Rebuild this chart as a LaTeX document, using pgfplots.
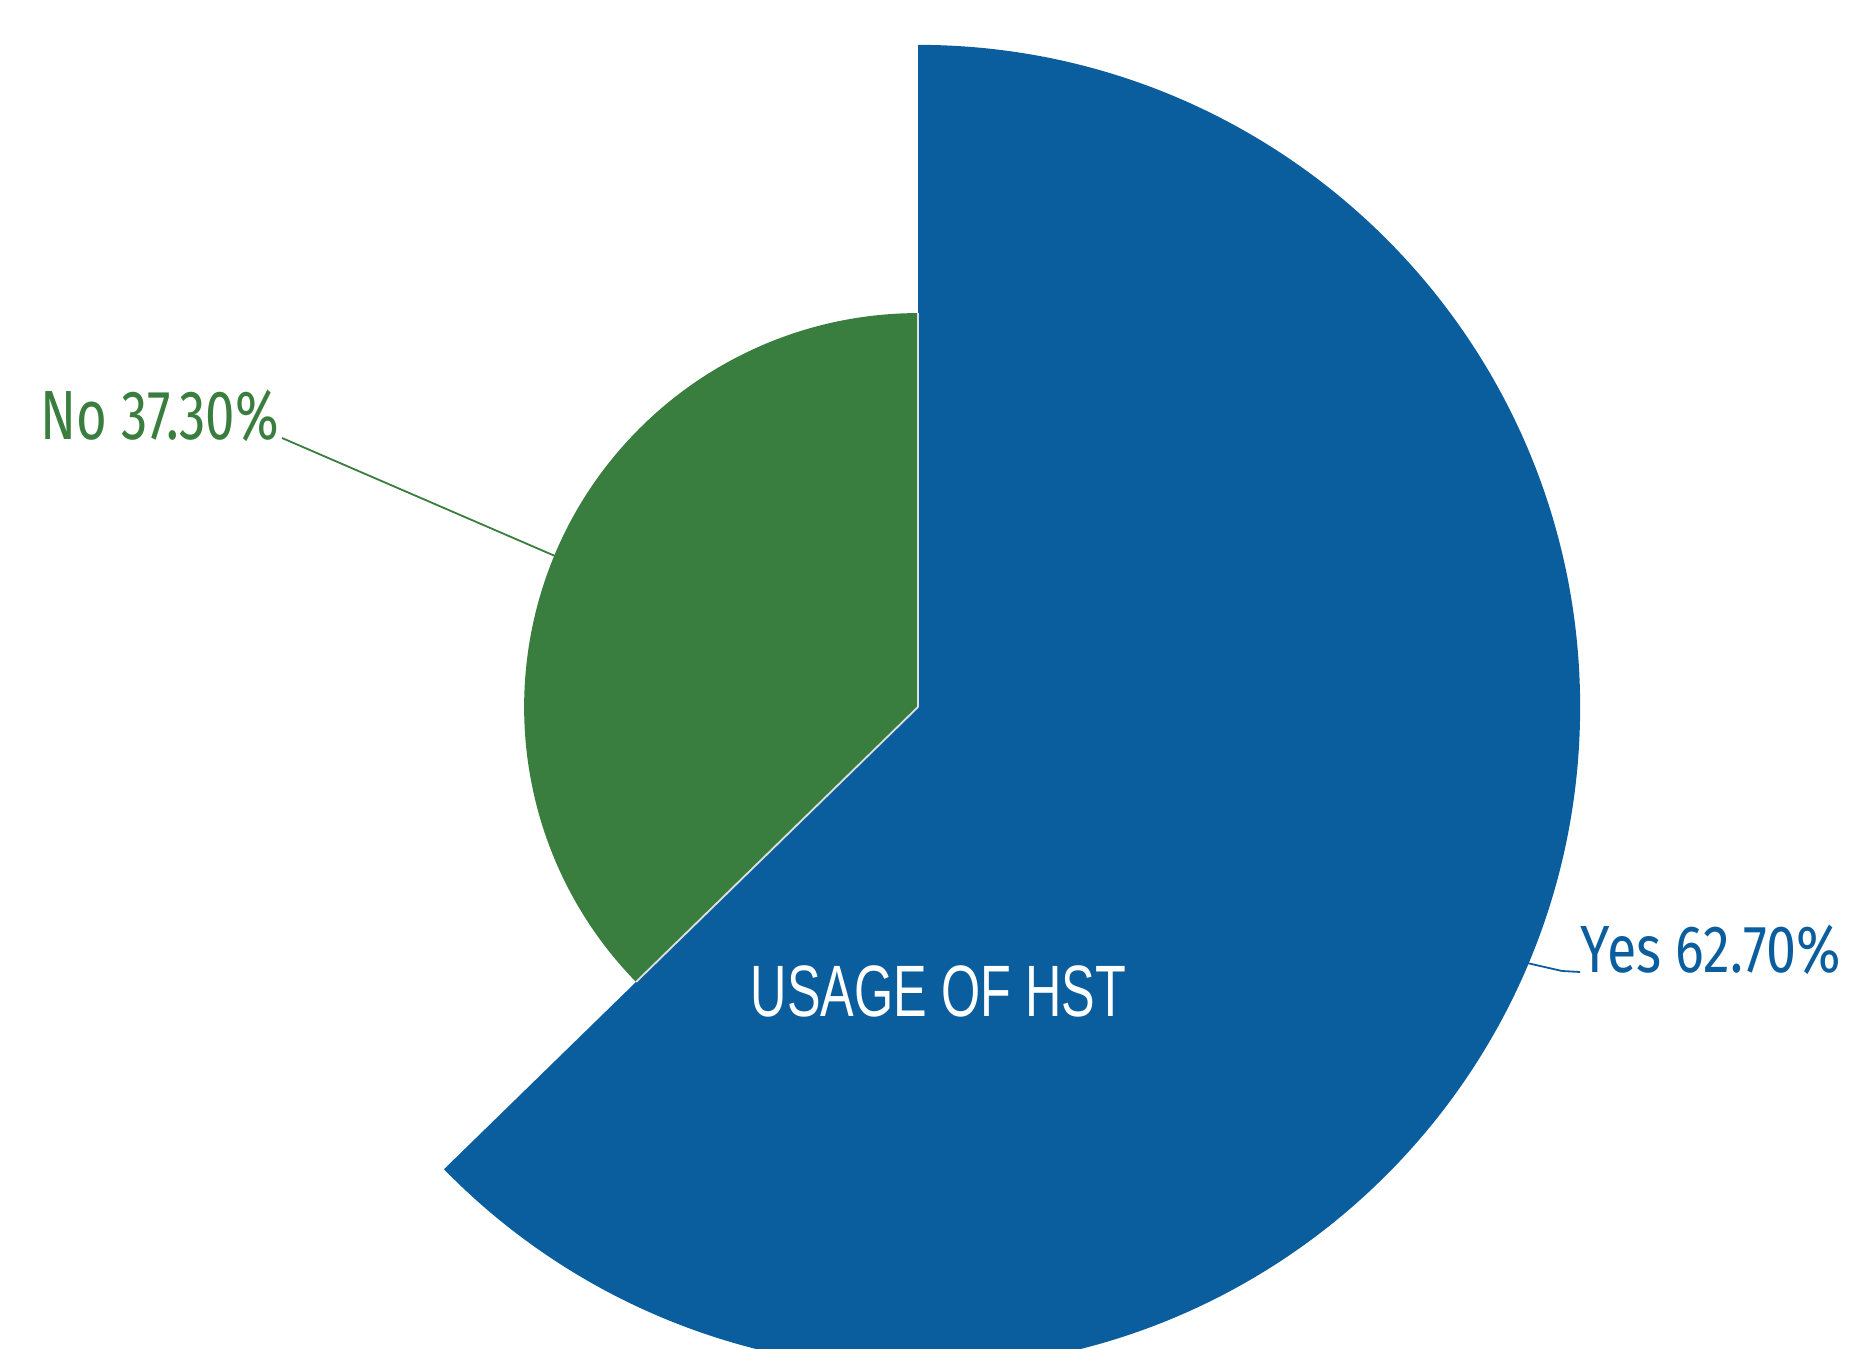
\documentclass[border=0pt]{standalone}
\usepackage{pgfplots}
\usepackage{pgfplotstable}
\pgfplotsset{compat=1.18}
\usepackage{fontspec}
\setmainfont{Liberation Sans}
\newfontfamily\labfont{Fira Sans}
\definecolor{yesblue}{HTML}{0B5E9E}
\definecolor{nogreen}{HTML}{397E3E}
\newlength\tmpw
\newcommand\fitw[2]{\settowidth\tmpw{#2}\pgfmathsetmacro\sc{#1/\tmpw}\scalebox{\sc}[1]{#2}}
\pgfplotstableread{
label value
Yes 62.70
No 37.30
}\datatable
\begin{document}
\begin{tikzpicture}
\pgfplotstablegetelem{0}{value}\of\datatable \edef\yesval{\pgfplotsretval}
\pgfplotstablegetelem{1}{value}\of\datatable \edef\noval{\pgfplotsretval}
% 1 px = 0.25pt ; radius proportional to value
\pgfmathsetmacro{\k}{10.56*0.25}
\pgfmathsetmacro{\ryes}{\yesval*\k}
\pgfmathsetmacro{\rno}{\noval*\k}
\pgfmathsetmacro{\aend}{90-\yesval*3.6}
\pgfmathsetmacro{\bend}{\aend-\noval*3.6}
\begin{axis}[
  at={(0,0)}, anchor=south west,
  scale only axis, width=462.25pt, height=337pt,
  xmin=0, xmax=1849, ymin=0, ymax=1348,
  hide axis, clip=true,
]
\coordinate (bbSW) at (rel axis cs:0,0);
\coordinate (bbNE) at (rel axis cs:1,1);
\coordinate (C) at (axis cs:918,641);
% Yes sector
\fill[yesblue] (C) -- ++(90:\ryes pt) arc[start angle=90, end angle=\aend, radius=\ryes pt] -- cycle;
% No sector
\fill[nogreen] (C) -- ++(\aend:\rno pt) arc[start angle=\aend, end angle=\bend, radius=\rno pt] -- cycle;
% thin separators
\draw[white!75!gray, line width=0.45pt] (C) -- ++(90:\rno pt);
\draw[white!75!gray, line width=0.45pt] (C) -- ++(\aend:\rno pt);
% leader lines
\draw[nogreen, line width=0.45pt] (axis cs:282,910) -- (axis cs:555,792);
\draw[yesblue, line width=0.45pt] (axis cs:1527,385) -- (axis cs:1562,377) -- (axis cs:1580,376);
% labels
\node[anchor=base west, inner sep=0pt, text=nogreen, font=\labfont\fontsize{17.4}{19}\selectfont] at (axis cs:40,908) {\fitw{59.5}{No 37.30\%}};
\node[anchor=base west, inner sep=0pt, text=yesblue, font=\labfont\fontsize{16.7}{18}\selectfont] at (axis cs:1580,375) {\fitw{65}{Yes 62.70\%}};
\node[anchor=base west, inner sep=0pt, text=white, font=\fontsize{18.2}{20}\selectfont] at (axis cs:750,331) {\fitw{93.75}{USAGE OF HST}};
\end{axis}
\pgfresetboundingbox
\path[use as bounding box] (bbSW) rectangle (bbNE);
\end{tikzpicture}
\end{document}
